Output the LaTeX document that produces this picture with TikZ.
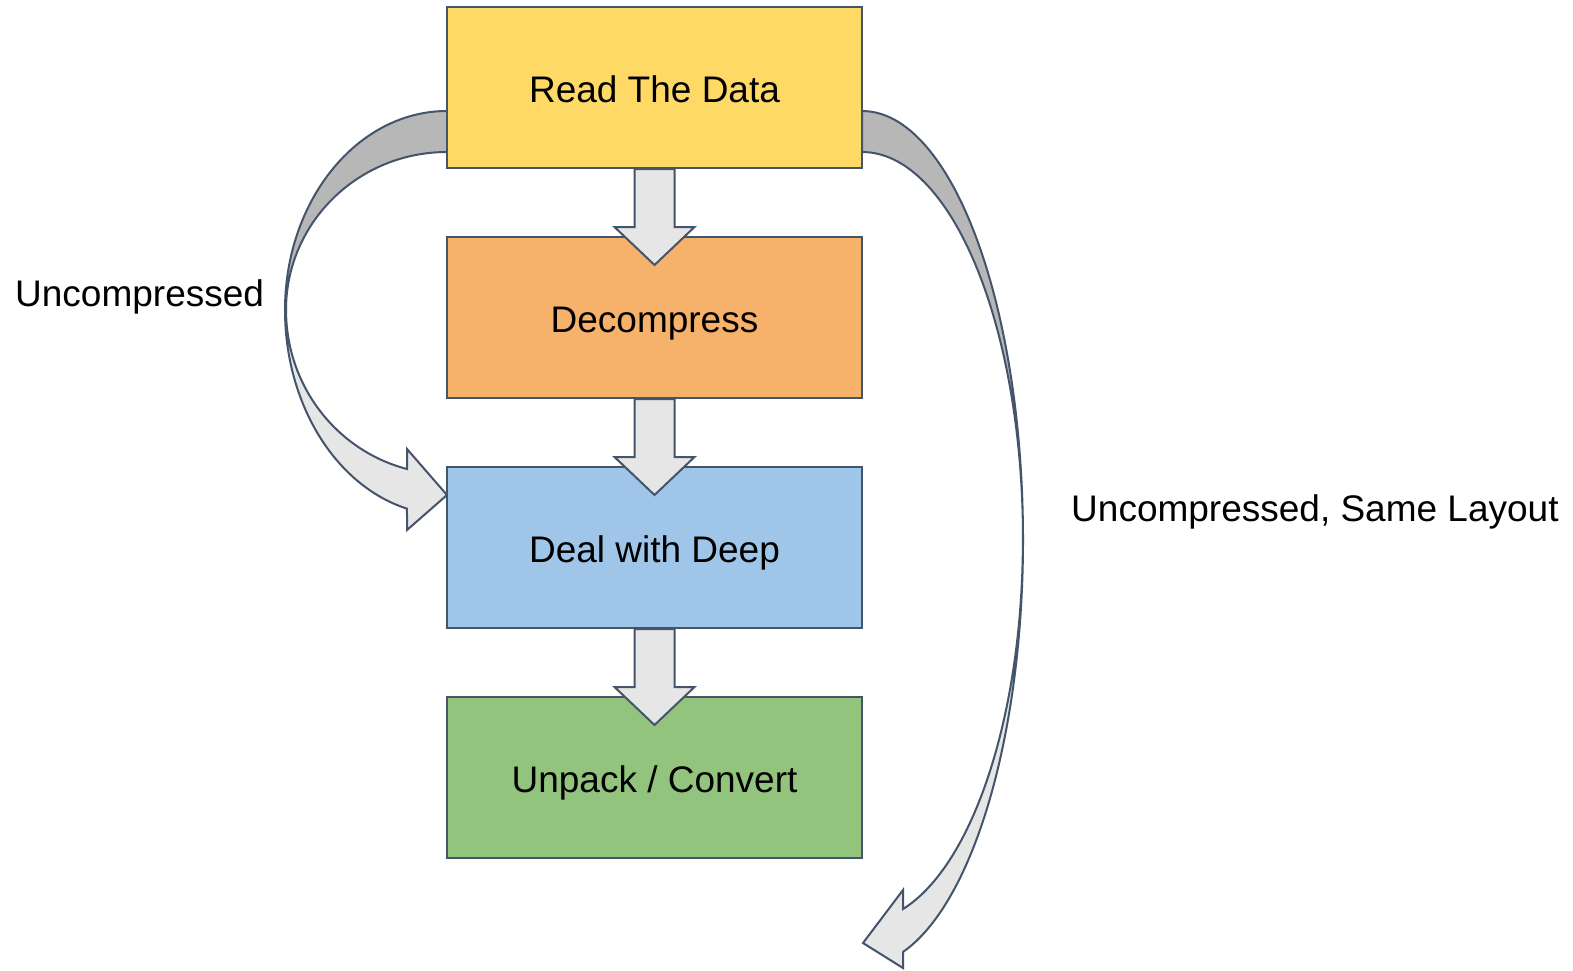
\documentclass[tikz,border=0pt]{standalone}
\usepackage{fontspec}
\setmainfont{Liberation Sans}
\usetikzlibrary{calc}

\definecolor{edge}{HTML}{44546A}
\definecolor{readfill}{HTML}{FFD966}
\definecolor{decfill}{HTML}{F6B26B}
\definecolor{deepfill}{HTML}{9FC5E8}
\definecolor{unpackfill}{HTML}{93C47D}
\definecolor{backside}{HTML}{B7B7B7}
\definecolor{frontside}{HTML}{E6E6E6}

\tikzset{
  stepbox/.style={draw=edge, line width=2pt, minimum width=415pt,
    minimum height=161pt, inner sep=0pt, text height=29pt, text depth=0pt,
    font=\fontsize{37}{44}\selectfont},
  blockarrow/.style={draw=edge, line width=2pt, fill=frontside, line join=miter},
  ribbonback/.style={draw=edge, line width=2pt, fill=backside, line join=round},
  ribbonfront/.style={draw=edge, line width=2pt, fill=frontside, line join=miter},
  sidelabel/.style={anchor=base west, inner sep=0pt, font=\fontsize{37}{44}\selectfont}
}

\begin{document}
\begin{tikzpicture}[x=1pt, y=-1pt]
  \fill[white] (0,0) rectangle (1573,970);
  \useasboundingbox (0,0) rectangle (1573,970);

  % anchor points of the two bypass arrows
  \coordinate (lefttip) at (447,495);
  \coordinate (righttip) at (863,943);

  % left bypass: back of the ribbon, then the front with its head
  \draw[ribbonback] (447,111) arc[start angle=90, end angle=180, x radius=162pt, y radius=199pt]
    -- (286,310) arc[start angle=180, end angle=90, x radius=161pt, y radius=158pt] -- cycle;
  \draw[ribbonfront] (285,310) arc[start angle=180, end angle=255.7, x radius=162pt, y radius=205pt]
    -- (407,530) -- (lefttip) -- (407,449) -- (407,469)
    arc[start angle=255.6, end angle=180, x radius=161pt, y radius=164pt] -- cycle;

  % right bypass: back of the ribbon, then the front with its head
  \draw[ribbonback] (862,111) arc[start angle=90, end angle=0, x radius=161pt, y radius=429pt]
    -- (1023,540) arc[start angle=0, end angle=90, x radius=161pt, y radius=388pt] -- cycle;
  \draw[ribbonfront] (1023,540) arc[start angle=0, end angle=-75.2, x radius=161pt, y radius=426pt]
    -- (903,968) -- (righttip) -- (903,890) -- (903,909)
    arc[start angle=-75.2, end angle=0, x radius=161pt, y radius=382pt] -- cycle;

  % pipeline steps
  \node[stepbox, fill=readfill]   (read)   at (654.5,87.5)  {Read The Data};
  \node[stepbox, fill=decfill]    (decomp) at (654.5,317.5) {Decompress};
  \node[stepbox, fill=deepfill]   (deep)   at (654.5,547.5) {Deal with Deep};
  \node[stepbox, fill=unpackfill] (unpack) at (654.5,777.5) {Unpack / Convert};

  % block arrows between consecutive steps
  \foreach \a/\b in {read/decomp, decomp/deep, deep/unpack} {
    \draw[blockarrow] ($(\a.south)+(-20,0)$) -- ++(0,58) -- ++(-20,0)
      -- ($(\b.north)+(0,29)$) -- ($(\a.south)+(40,58)$) -- ++(-20,0)
      -- ++(0,-58) -- cycle;
  }

  % labels of the bypass arrows
  \node[sidelabel] (lbl1) at (15,306.7) {Uncompressed};
  \node[sidelabel] (lbl2) at (1071,521.7) {Uncompressed, Same Layout};
\end{tikzpicture}
\end{document}
